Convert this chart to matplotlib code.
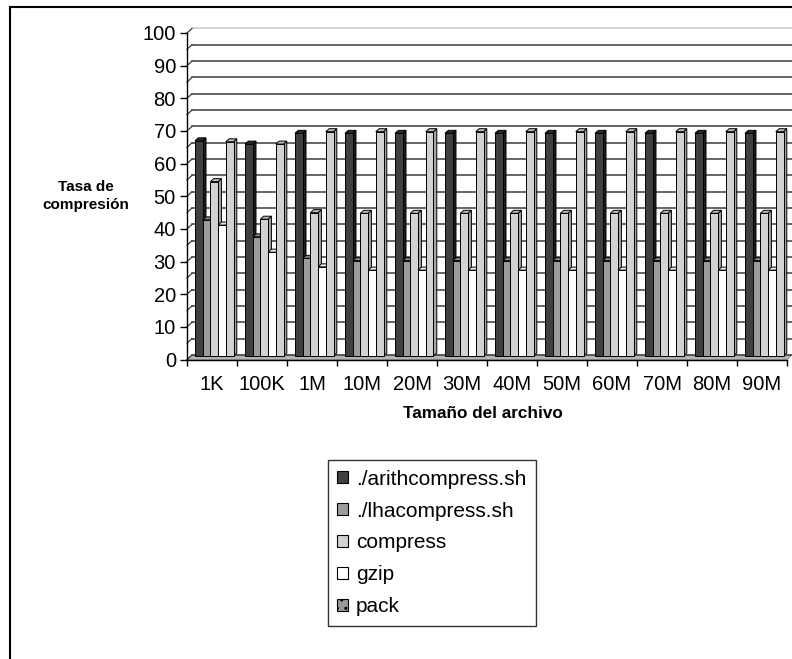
import matplotlib
matplotlib.use('Agg')
import matplotlib.pyplot as plt
from matplotlib.patches import Polygon, Rectangle, Patch

plt.rcParams['font.family'] = ['Liberation Sans', 'DejaVu Sans']

categories = ['1K', '100K', '1M', '10M', '20M', '30M', '40M', '50M', '60M', '70M', '80M', '90M']
series_names = ['./arithcompress.sh', './lhacompress.sh', 'compress', 'gzip', 'pack']
arith = [65.9, 64.9, 68.2, 68.2, 68.2, 68.2, 68.2, 68.2, 68.2, 68.2, 68.2, 68.2]
lha = [41.7, 36.5, 29.9, 29.2, 29.2, 29.2, 29.2, 29.2, 29.2, 29.2, 29.2, 29.2]
compress = [53.4, 41.9, 43.9, 43.7, 43.7, 43.7, 43.7, 43.7, 43.7, 43.7, 43.7, 43.7]
gzip = [40.1, 31.8, 27.3, 26.3, 26.3, 26.3, 26.3, 26.3, 26.3, 26.3, 26.3, 26.3]
pack = [65.6, 64.9, 68.7, 68.7, 68.7, 68.7, 68.7, 68.7, 68.7, 68.7, 68.7, 68.7]
series = [arith, lha, compress, gzip, pack]

front_colors = ['#404040', '#9c9c9c', '#d2d2d2', '#ffffff', '#d2d2d2']
side_colors = ['#1e1e1e', '#6e6e6e', '#a6a6a6', '#d8d8d8', '#a6a6a6']
top_colors = ['#2c2c2c', '#808080', '#bcbcbc', '#eeeeee', '#bcbcbc']

W, H = 792, 659
fig = plt.figure(figsize=(W / 100, H / 100), dpi=100)
ax = fig.add_axes([187 / W, (H - 359.5) / H, 600 / W, 326.5 / H])
ax.set_xlim(0, len(categories))
ax.set_ylim(0, 100)
ax.patch.set_visible(False)

PX = len(categories) / 600.0
PY = 100 / 326.5
WX, WY = 5 * PX, 4.5 * PY        # back-wall depth offset
BX, BY = 2 * PX, 3.5 * PY        # bar front-plane offset
BW = 7.7 * PX                    # bar width
SX, SY = 3.3 * PX, 3.0 * PY      # bar depth
G0 = 6 * PX                      # first bar offset in group

# floor
n = len(categories)
ax.add_patch(Polygon([(0, 0), (n, 0), (n + WX, WY), (WX, WY)], closed=True,
                     facecolor='#b4b4b4', edgecolor='#888888', lw=0.6, zorder=1, clip_on=False))

# back-wall and side-wall gridlines
for v in range(0, 101, 5):
    col = '#c8c8c8' if v == 100 else '#3c3c3c'
    ax.plot([WX, n + WX], [v + WY, v + WY], color=col, lw=1.1, zorder=1.5, clip_on=False)
    ax.plot([0, WX], [v, v + WY], color='#3c3c3c', lw=0.9, zorder=1.5, clip_on=False)

# 3D bars
for i in range(n):
    for j, vals in enumerate(series):
        v = vals[i]
        x0 = i + G0 + BX + j * BW
        x1 = x0 + BW
        y0 = BY
        y1 = BY + v
        side = Polygon([(x1, y0), (x1 + SX, y0 + SY), (x1 + SX, y1 + SY), (x1, y1)],
                       closed=True, facecolor=side_colors[j], edgecolor='black', lw=0.7,
                       zorder=3 + j * 0.1, clip_on=False)
        top = Polygon([(x0, y1), (x1, y1), (x1 + SX, y1 + SY), (x0 + SX, y1 + SY)],
                      closed=True, facecolor=top_colors[j], edgecolor='black', lw=0.7,
                      zorder=3 + j * 0.1, clip_on=False)
        front = Rectangle((x0, y0), BW, v, facecolor=front_colors[j], edgecolor='black',
                          lw=0.7, zorder=3 + j * 0.1 + 0.05, clip_on=False)
        ax.add_patch(side)
        ax.add_patch(top)
        ax.add_patch(front)

# axes
for s in ['top', 'right']:
    ax.spines[s].set_visible(False)
ax.spines['left'].set_linewidth(1.0)
ax.spines['bottom'].set_linewidth(1.0)
ax.spines['left'].set_zorder(5)
ax.spines['bottom'].set_zorder(5)
ax.set_yticks(range(0, 101, 10))
ax.tick_params(axis='y', direction='out', length=5, width=1, labelsize=14.5, pad=3)
ax.set_xticks(range(0, n + 1))
ax.set_xticklabels([])
ax.set_xticks([i + 0.5 for i in range(n)], minor=True)
ax.set_xticklabels(categories, minor=True)
ax.tick_params(axis='x', which='major', direction='out', length=4, width=1)
ax.tick_params(axis='x', which='minor', length=0, labelsize=14.5, pad=11)

fig.text(86 / W, 1 - 196 / H, 'Tasa de\ncompresión', ha='center', va='center',
         fontsize=11, fontweight='bold', linespacing=1.45)
fig.text(483 / W, 1 - 413 / H, 'Tamaño del archivo', ha='center', va='center',
         fontsize=12.3, fontweight='bold')

handles = [Patch(facecolor=front_colors[0], edgecolor='black', lw=0.8),
           Patch(facecolor=front_colors[1], edgecolor='black', lw=0.8),
           Patch(facecolor=front_colors[2], edgecolor='black', lw=0.8),
           Patch(facecolor=front_colors[3], edgecolor='black', lw=0.8),
           Patch(facecolor='#9a9a9a', edgecolor='black', lw=0.8, hatch='..')]
leg = fig.legend(handles, series_names, loc='center',
                 bbox_to_anchor=(432 / W, 1 - 543 / H), fontsize=15,
                 handlelength=0.5, handleheight=0.5, handletextpad=0.4,
                 labelspacing=0.62, borderpad=0.45, borderaxespad=0,
                 frameon=True, fancybox=False, edgecolor='black')
leg.get_frame().set_linewidth(1.0)

# chart-area border
fig.patches.append(Rectangle((10 / W, -0.1), 1.2, 1 - 7 / H + 0.1, transform=fig.transFigure,
                             fill=False, edgecolor='black', lw=1.5))

fig.savefig('out.png', dpi=100, facecolor='white')
